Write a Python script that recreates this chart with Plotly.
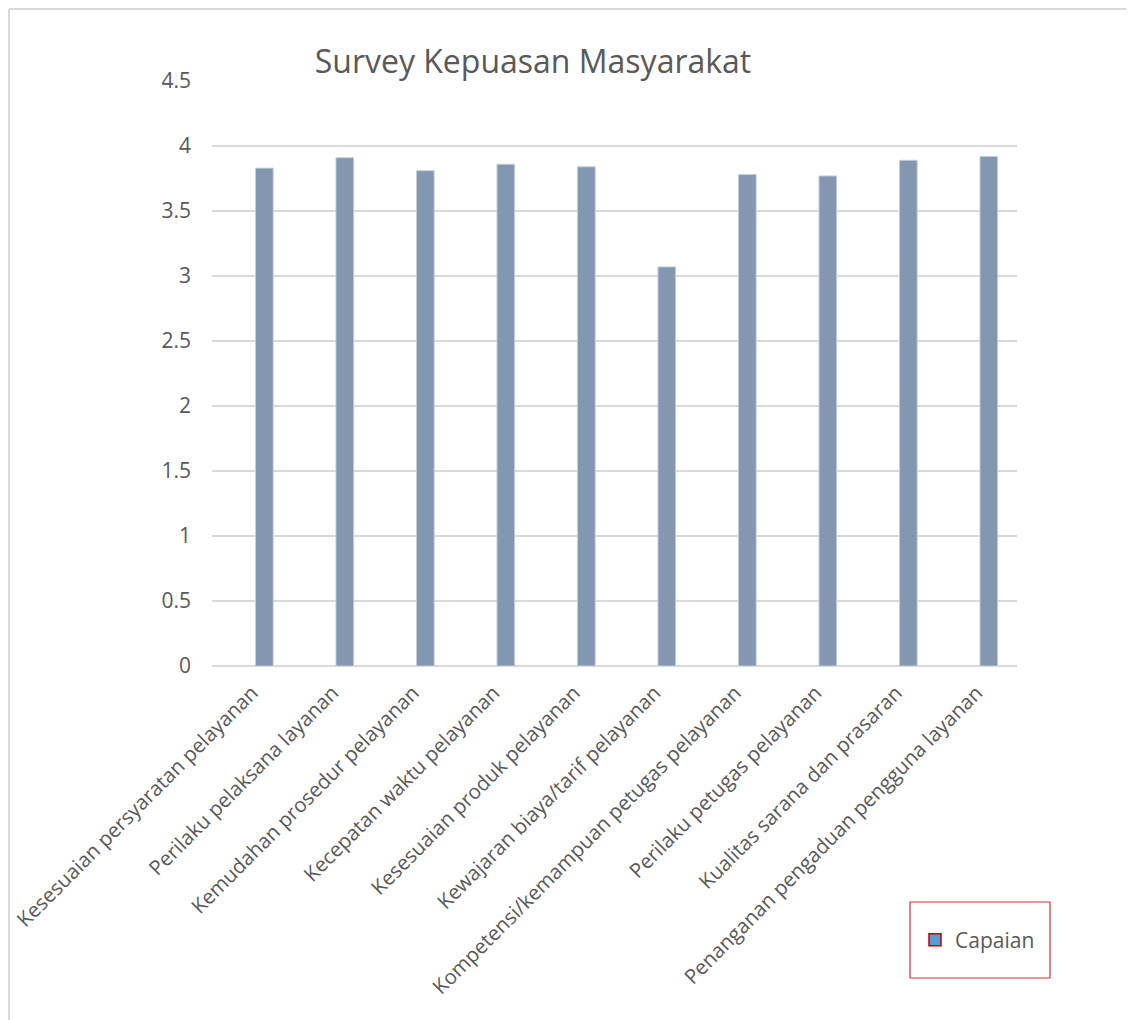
import plotly.graph_objects as go

categories = [
    "Kesesuaian persyaratan pelayanan",
    "Perilaku pelaksana layanan",
    "Kemudahan prosedur pelayanan",
    "Kecepatan waktu pelayanan",
    "Kesesuaian produk pelayanan",
    "Kewajaran biaya/tarif pelayanan",
    "Kompetensi/kemampuan petugas pelayanan",
    "Perilaku petugas pelayanan",
    "Kualitas sarana dan prasaran",
    "Penanganan pengaduan pengguna layanan",
]
capaian = [3.83, 3.91, 3.81, 3.86, 3.84, 3.07, 3.78, 3.77, 3.89, 3.92]
y_ticks = [0, 0.5, 1, 1.5, 2, 2.5, 3, 3.5, 4, 4.5]
y_tick_text = ["0", "0.5", "1", "1.5", "2", "2.5", "3", "3.5", "4", "4.5"]

OFF = 8  # page body offset
W, H = 1134, 1020
L, T = 212 - OFF, 81 - OFF
R = W - (1017 - OFF)
B = H - (666 - OFF)
pw, ph = W - L - R, H - T - B

def px_x(x):
    return (x - OFF - L) / pw

def px_y(y):
    return (H - B - (y - OFF)) / ph

FONT = "Open Sans"
GRAY = "#595959"

fig = go.Figure()
fig.add_trace(go.Bar(
    x=list(range(len(categories))), y=capaian, name="Capaian",
    marker=dict(color="#8497B0", line=dict(color="#C5CEDB", width=1)),
    width=0.22, offset=0.04, showlegend=False,
))
fig.add_trace(go.Bar(
    x=[None], y=[None], name="Capaian",
    marker=dict(color="#5B9BD5", line=dict(color="#C00000", width=1.5)),
    showlegend=True,
))

fig.update_layout(
    width=W, height=H,
    margin=dict(l=L, r=R, t=T, b=B, autoexpand=False),
    paper_bgcolor="white", plot_bgcolor="white",
    font=dict(family=FONT, color=GRAY),
    title=dict(text="Survey Kepuasan Masyarakat", x=(533 - OFF) / W, xanchor="center",
               y=1 - (62 - OFF) / H, yanchor="middle",
               font=dict(family=FONT, size=32, color=GRAY)),
    xaxis=dict(
        range=[-0.5, 9.5], tickmode="array",
        tickvals=list(range(len(categories))), ticktext=categories,
        tickangle=-45, tickfont=dict(size=20.4, color=GRAY),
        ticklabelstandoff=10, ticklabeloverflow="allow",
        showgrid=False, showline=False, zeroline=False, ticks="",
    ),
    yaxis=dict(
        range=[0, 4.5], tickmode="array", tickvals=y_ticks, ticktext=y_tick_text,
        tickfont=dict(size=21, color=GRAY), showgrid=True, gridcolor="#D9D9D9",
        gridwidth=1.5, zeroline=True, zerolinecolor="#D9D9D9", zerolinewidth=1.5,
        showline=False, ticks="", ticklabelstandoff=20,
    ),
    legend=dict(x=px_x(915), y=px_y(940), xanchor="left", yanchor="middle",
                bgcolor="rgba(0,0,0,0)", borderwidth=0,
                font=dict(size=21, color=GRAY), itemwidth=30),
    shapes=[
        dict(type="rect", xref="paper", yref="paper",
             x0=px_x(910), x1=px_x(1050), y0=px_y(978), y1=px_y(902),
             line=dict(color="#D03030", width=1.2), fillcolor="rgba(0,0,0,0)"),
        dict(type="line", xref="paper", yref="paper",
             x0=px_x(9), x1=px_x(9), y0=px_y(1030), y1=px_y(9),
             line=dict(color="#D9D9D9", width=2)),
        dict(type="line", xref="paper", yref="paper",
             x0=px_x(9), x1=px_x(1150), y0=px_y(9), y1=px_y(9),
             line=dict(color="#D9D9D9", width=2)),
    ],
)

fig.write_html("out.html")
